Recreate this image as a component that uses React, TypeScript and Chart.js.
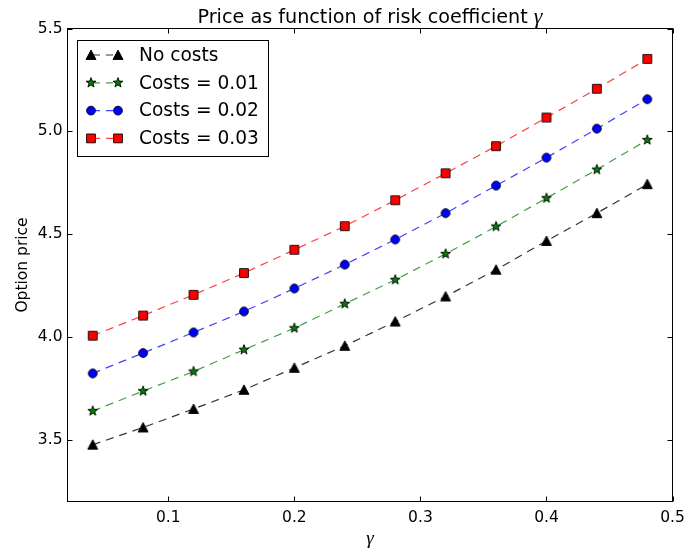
import React, { useEffect, useRef } from 'react';
import { Chart, registerables } from 'chart.js';
Chart.register(...registerables);

// ---- data ----
const gammas = [0.04, 0.08, 0.12, 0.16, 0.2, 0.24, 0.28, 0.32, 0.36, 0.4, 0.44, 0.48];
const noCosts = [3.476, 3.56, 3.65, 3.743, 3.85, 3.957, 4.075, 4.197, 4.327, 4.467, 4.602, 4.743];
const costs001 = [3.64, 3.737, 3.832, 3.938, 4.043, 4.161, 4.278, 4.404, 4.537, 4.675, 4.814, 4.958];
const costs002 = [3.823, 3.922, 4.022, 4.124, 4.236, 4.352, 4.474, 4.602, 4.736, 4.872, 5.013, 5.156];
const costs003 = [4.006, 4.104, 4.205, 4.311, 4.424, 4.539, 4.665, 4.796, 4.928, 5.067, 5.207, 5.352];
const seriesLabels = ['No costs', 'Costs = 0.01', 'Costs = 0.02', 'Costs = 0.03'];
const xTicks = [0.1, 0.2, 0.3, 0.4, 0.5];
const yTicks = [3.5, 4.0, 4.5, 5.0, 5.5];
const titleText = 'Price as function of risk coefficient ';
const gammaSymbol = 'γ';
const yLabelText = 'Option price';

type Kind = 'tri' | 'star' | 'circle' | 'square';
const kinds: Kind[] = ['tri', 'star', 'circle', 'square'];
const fills = ['#000000', '#008000', '#0000ff', '#ff0000'];
const lineColors = ['rgba(0,0,0,0.8)', 'rgba(0,128,0,0.75)', 'rgba(0,0,255,0.75)', 'rgba(255,0,0,0.75)'];
const DASH = [8, 6];

function markerPath(ctx: CanvasRenderingContext2D, kind: Kind, x: number, y: number) {
  ctx.beginPath();
  if (kind === 'tri') {
    ctx.moveTo(x, y - 5);
    ctx.lineTo(x + 5, y + 4.5);
    ctx.lineTo(x - 5, y + 4.5);
    ctx.closePath();
  } else if (kind === 'circle') {
    ctx.arc(x, y, 4.4, 0, Math.PI * 2);
  } else if (kind === 'square') {
    ctx.rect(x - 4.4, y - 4.4, 8.8, 8.8);
  } else {
    for (let i = 0; i < 10; i++) {
      const r = i % 2 === 0 ? 5.2 : 2.1;
      const a = -Math.PI / 2 + (i * Math.PI) / 5;
      const px = x + r * Math.cos(a);
      const py = y + r * Math.sin(a);
      if (i === 0) ctx.moveTo(px, py);
      else ctx.lineTo(px, py);
    }
    ctx.closePath();
  }
}

function drawMarker(ctx: CanvasRenderingContext2D, kind: Kind, x: number, y: number, fill: string) {
  ctx.save();
  markerPath(ctx, kind, x, y);
  ctx.fillStyle = fill;
  ctx.fill();
  ctx.lineWidth = 0.9;
  ctx.strokeStyle = '#000';
  ctx.setLineDash([]);
  ctx.stroke();
  ctx.restore();
}

function markerCanvas(kind: Kind, fill: string) {
  const c = document.createElement('canvas');
  c.width = 14;
  c.height = 14;
  const cx = c.getContext('2d')!;
  drawMarker(cx, kind, 7, 7, fill);
  return c;
}

const framePlugin = {
  id: 'frame',
  afterDraw(chart: any) {
    const { ctx, chartArea: a, scales } = chart;
    ctx.save();
    ctx.strokeStyle = '#000';
    ctx.lineWidth = 1;
    ctx.setLineDash([]);
    ctx.strokeRect(a.left, a.top, a.right - a.left, a.bottom - a.top);
    const tl = 5;
    ctx.beginPath();
    for (const v of xTicks) {
      const px = Math.round(scales.x.getPixelForValue(v)) + 0.5;
      ctx.moveTo(px, a.bottom);
      ctx.lineTo(px, a.bottom - tl);
      ctx.moveTo(px, a.top);
      ctx.lineTo(px, a.top + tl);
    }
    for (const v of yTicks) {
      const py = Math.round(scales.y.getPixelForValue(v)) + 0.5;
      ctx.moveTo(a.left, py);
      ctx.lineTo(a.left + tl, py);
      ctx.moveTo(a.right, py);
      ctx.lineTo(a.right - tl, py);
    }
    ctx.stroke();

    // title
    const tFont = '19.2px "DejaVu Sans"';
    const gFont = 'italic 22px "Liberation Serif"';
    ctx.font = tFont;
    const w1 = ctx.measureText(titleText).width;
    ctx.font = gFont;
    const w2 = ctx.measureText(gammaSymbol).width;
    const cx = (a.left + a.right) / 2;
    const x0 = cx - (w1 + w2) / 2;
    ctx.fillStyle = '#000';
    ctx.textBaseline = 'alphabetic';
    ctx.textAlign = 'left';
    ctx.font = tFont;
    ctx.fillText(titleText, x0, 23);
    ctx.font = gFont;
    ctx.fillText(gammaSymbol, x0 + w1, 23);

    // x label
    ctx.font = 'italic 19px "Liberation Serif"';
    ctx.textAlign = 'center';
    ctx.fillText(gammaSymbol, cx, 544);

    // y label
    ctx.save();
    ctx.translate(27, (a.top + a.bottom) / 2);
    ctx.rotate(-Math.PI / 2);
    ctx.font = '15.5px "DejaVu Sans"';
    ctx.textAlign = 'center';
    ctx.textBaseline = 'alphabetic';
    ctx.fillText(yLabelText, 0, 0);
    ctx.restore();

    // legend
    const bx = 77.5, by = 40.5, bw = 191, bh = 116;
    ctx.fillStyle = '#fff';
    ctx.fillRect(bx, by, bw, bh);
    ctx.strokeStyle = '#000';
    ctx.lineWidth = 1;
    ctx.strokeRect(bx, by, bw, bh);
    ctx.font = '18.6px "DejaVu Sans"';
    ctx.textAlign = 'left';
    ctx.textBaseline = 'middle';
    seriesLabels.forEach((lab, i) => {
      const y = 55 + i * 27.8;
      ctx.save();
      ctx.strokeStyle = lineColors[i];
      ctx.lineWidth = 1.2;
      ctx.setLineDash([7, 6]);
      ctx.lineDashOffset = -2;
      ctx.beginPath();
      ctx.moveTo(91, y);
      ctx.lineTo(118, y);
      ctx.stroke();
      ctx.restore();
      drawMarker(ctx, kinds[i], 91, y, fills[i]);
      drawMarker(ctx, kinds[i], 118, y, fills[i]);
      ctx.fillStyle = '#000';
      ctx.fillText(lab, 139, y + 1);
    });
    ctx.restore();
  },
};

export default function App() {
  const ref = useRef<HTMLCanvasElement>(null);
  useEffect(() => {
    document.body.style.margin = '0';
    const canvas = ref.current!;
    const seriesValues = [noCosts, costs001, costs002, costs003];
    const datasets = seriesValues.map((vals, i) => ({
      label: seriesLabels[i],
      data: gammas.map((g, j) => ({ x: g, y: vals[j] })),
      borderColor: lineColors[i],
      backgroundColor: fills[i],
      borderWidth: 1.2,
      borderDash: DASH,
      pointStyle: markerCanvas(kinds[i], fills[i]) as any,
      pointRadius: 5,
      tension: 0,
      fill: false,
    }));
    const tickFont = { family: 'DejaVu Sans', size: 15.5 };
    const chart = new Chart(canvas, {
      type: 'line',
      data: { datasets },
      options: {
        animation: false,
        responsive: false,
        devicePixelRatio: 1,
        layout: { padding: { top: 28.5, right: 11.5, left: 0, bottom: 0 } },
        plugins: { legend: { display: false }, tooltip: { enabled: false }, title: { display: false } },
        scales: {
          x: {
            type: 'linear',
            min: 0.02,
            max: 0.5,
            grid: { display: false, drawTicks: false },
            border: { display: false },
            ticks: { font: tickFont, color: '#000', padding: 7, maxRotation: 0, callback: (v: any) => Number(v).toFixed(1) },
            afterBuildTicks: (s: any) => { s.ticks = xTicks.map((v) => ({ value: v })); },
            afterFit: (s: any) => { s.height = 50.5; s.paddingLeft = 0; s.paddingRight = 0; },
          },
          y: {
            type: 'linear',
            min: 3.2,
            max: 5.5,
            grid: { display: false, drawTicks: false },
            border: { display: false },
            ticks: { font: tickFont, color: '#000', padding: 5, callback: (v: any) => Number(v).toFixed(1) },
            afterBuildTicks: (s: any) => { s.ticks = yTicks.map((v) => ({ value: v })); },
            afterFit: (s: any) => { s.width = 67.5; s.paddingTop = 0; s.paddingBottom = 0; },
          },
        },
      } as any,
      plugins: [framePlugin],
    });
    return () => chart.destroy();
  }, []);
  return (
    <div style={{ width: 684, height: 552, position: 'relative' }}>
      <canvas ref={ref} width={684} height={552} style={{ display: 'block' }} />
    </div>
  );
}
